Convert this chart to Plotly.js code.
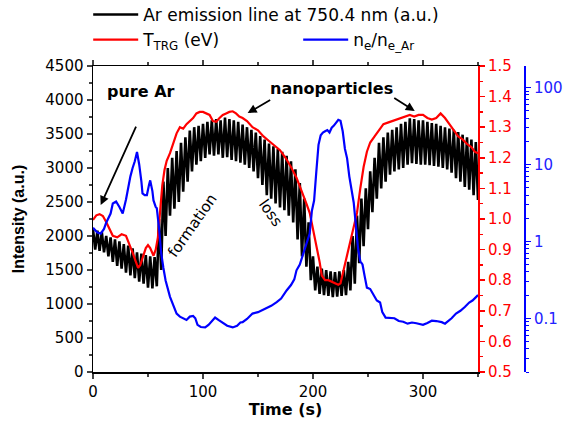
<!DOCTYPE html>
<html>
<head>
<meta charset="utf-8">
<script src="https://cdn.plot.ly/plotly-3.0.1.min.js"></script>
<style>html,body{margin:0;padding:0;background:#fff;}#chart{width:566px;height:425px;}</style>
</head>
<body>
<div id="chart"></div>
<script>
const emissionTime = [];
const emissionIntensity = [
2100,1800,2080,1780,2060,1760,2000,1700,1980,1620,
1950,1560,1920,1520,1880,1460,1860,1420,1820,1380,
1760,1330,1740,1300,1720,1240,1700,1230,1690,1260,
2250,1500,2800,2000,3000,2300,3150,2400,3250,2500,
3370,2650,3450,2800,3550,2950,3600,3050,3620,3100,
3650,3150,3680,3200,3700,3180,3720,3200,3700,3150,
3740,3160,3720,3120,3700,3100,3680,3080,3640,3050,
3600,3000,3560,2950,3520,2850,3470,2750,3420,2600,
3360,2550,3320,2480,3280,2420,3240,2380,3180,2300,
3100,2200,2980,1950,2780,1700,2550,1550,2200,1350,
1700,1200,1550,1150,1520,1130,1500,1120,1480,1100,
1470,1110,1480,1120,1500,1130,1620,1200,2000,1300,
2300,1600,2550,1850,2700,2100,2950,2350,3150,2550,
3370,2700,3450,2800,3520,2900,3560,2950,3600,2980,
3650,3000,3680,3050,3730,3070,3720,3060,3700,3050,
3700,3050,3680,3040,3660,3030,3650,3020,3620,3000,
3600,2980,3580,2930,3560,2850,3530,2800,3490,2720,
3450,2680,3420,2600,3380,2530
];
for (let i = 0; i < emissionIntensity.length; i++) emissionTime.push(i * 2);

// T_TRG (eV)
const tempTime = [0,3,6,9,12,15,18,22,26,30,33,36,39,41,43,45,48,50,52,55,57,59,61,63,65,67,70,73,76,79,82,85,88,91,94,97,100,103,106,109,112,115,118,121,124,127,130,133,136,140,145,150,155,160,165,170,175,180,185,190,194,197,200,203,206,208,211,214,217,220,223,225,227,229,231,234,237,240,243,246,249,252,256,260,264,268,272,276,280,284,288,292,296,300,304,308,312,316,320,324,328,332,336,340,344,347,350];
const tempValue = [0.997,1.012,1.016,1.01,0.99,0.965,0.945,0.94,0.95,0.945,0.92,0.89,0.86,0.84,0.85,0.87,0.905,0.915,0.905,0.88,0.90,0.94,1.04,1.11,1.16,1.19,1.215,1.25,1.28,1.30,1.295,1.31,1.32,1.33,1.345,1.35,1.35,1.345,1.34,1.32,1.318,1.33,1.34,1.345,1.35,1.352,1.345,1.335,1.33,1.32,1.30,1.29,1.27,1.255,1.24,1.225,1.20,1.17,1.135,1.09,1.05,1.02,0.97,0.92,0.86,0.815,0.80,0.80,0.795,0.79,0.785,0.79,0.82,0.85,0.88,0.92,0.97,1.02,1.10,1.17,1.22,1.25,1.27,1.29,1.31,1.315,1.32,1.325,1.33,1.335,1.34,1.335,1.34,1.34,1.33,1.325,1.33,1.345,1.33,1.31,1.29,1.27,1.26,1.245,1.235,1.22,1.215];

// n_e / n_e_Ar (log scale)
const densTime = [0,2,4,7,10,12,14,16,18,21,24,27,30,32,34,36,38,40,42,44,45,47,49,51,52,54,55,57,58,60,62,64,66,70,73,76,79,82,85,88,91,93,95,98,102,105,108,111,114,118,122,127,131,134,136,140,145,150,155,158,162,167,171,176,180,183,185,188,191,194,197,199,201,203,205,207,209,211,213,215,217,219,221,223,225,227,229,231,233,235,237,239,241,243,245,247,249,252,255,258,261,263,266,270,274,278,282,286,290,294,297,300,304,308,312,317,320,323,326,330,334,338,342,345,348,350];
const densValue = [1.5,1.4,1.3,1.26,1.45,1.75,2.0,2.3,3.1,3.3,2.8,2.3,3.5,5.0,7.0,9.0,11,14.5,10,6,4.2,4.0,4.0,5.5,6.2,4.5,3.4,2.8,2.7,1.5,0.7,0.45,0.31,0.19,0.15,0.115,0.105,0.10,0.095,0.105,0.107,0.10,0.082,0.077,0.076,0.082,0.092,0.102,0.095,0.087,0.08,0.076,0.08,0.088,0.089,0.098,0.115,0.12,0.13,0.135,0.145,0.162,0.18,0.23,0.27,0.32,0.42,0.5,0.69,0.95,1.26,2.5,3.4,8,18,24,26,27,28,26,30,32,35,38,37,27,16,12,7,4.5,3.2,1.6,0.8,0.55,0.5,0.35,0.25,0.24,0.2,0.17,0.16,0.12,0.102,0.1,0.1,0.092,0.09,0.085,0.088,0.086,0.083,0.082,0.087,0.093,0.092,0.089,0.085,0.092,0.1,0.115,0.125,0.14,0.16,0.17,0.19,0.2,0.22];

const F = 'DejaVu Sans, Arial, sans-serif';

const traces = [
  {x: emissionTime, y: emissionIntensity, type: 'scatter', mode: 'lines', name: 'Ar emission line at 750.4 nm (a.u.)',
   line: {color: '#000000', width: 2.6}, legend: 'legend', yaxis: 'y'},
  {x: tempTime, y: tempValue, type: 'scatter', mode: 'lines', name: 'T<sub>TRG</sub> (eV)',
   line: {color: '#ff0000', width: 2.2}, legend: 'legend2', yaxis: 'y2'},
  {x: densTime, y: densValue, type: 'scatter', mode: 'lines', name: 'n<sub>e</sub>/n<sub>e_Ar</sub>',
   line: {color: '#0000ff', width: 2.2}, legend: 'legend2', yaxis: 'y3'}
];

const layout = {
  width: 566, height: 425,
  margin: {l: 93, r: 36, t: 66, b: 53, autoexpand: false},
  paper_bgcolor: '#ffffff', plot_bgcolor: '#ffffff',
  font: {family: F, size: 15, color: '#000'},
  showlegend: true,
  legend: {x: -0.011, xanchor: 'left', y: 1.167, yanchor: 'middle', font: {family: F, size: 17},
           itemwidth: 45, bgcolor: 'rgba(0,0,0,0)', tracegroupgap: 0},
  legend2: {orientation: 'h', x: -0.011, xanchor: 'left', y: 1.085, yanchor: 'middle', font: {family: F, size: 17},
            itemwidth: 45, entrywidth: 150, entrywidthmode: 'pixels', bgcolor: 'rgba(0,0,0,0)'},
  xaxis: {domain: [0, 0.881], range: [0, 350], dtick: 100, ticks: 'outside', ticklen: 5, tickwidth: 1.5,
          minor: {dtick: 50, ticks: 'outside', ticklen: 3, tickwidth: 1.5},
          showline: true, linecolor: '#000', linewidth: 1.5, mirror: 'ticks', showgrid: false, zeroline: false,
          tickfont: {family: F, size: 15},
          title: {text: '<b>Time (s)</b>', font: {family: F, size: 16}, standoff: 0}},
  yaxis: {range: [0, 4500], dtick: 500, ticks: 'outside', ticklen: 5, tickwidth: 1.5,
          minor: {dtick: 250, ticks: 'outside', ticklen: 3, tickwidth: 1.5},
          showline: true, linecolor: '#000', linewidth: 1.5, showgrid: false, zeroline: false,
          tickfont: {family: F, size: 15},
          title: {text: '<b>Intensity (a.u.)</b>', font: {family: 'Liberation Sans, Arial, sans-serif', size: 16}, standoff: 16}},
  yaxis2: {overlaying: 'y', side: 'right', anchor: 'x', range: [0.5, 1.5], dtick: 0.1, tickformat: '.1f',
           ticks: 'outside', ticklen: 5, tickwidth: 1.5, tickcolor: '#ff0000',
           minor: {dtick: 0.05, ticks: 'outside', ticklen: 3, tickwidth: 1.5, tickcolor: '#ff0000'},
           showline: true, linecolor: '#ff0000', linewidth: 2, showgrid: false, zeroline: false,
           tickfont: {family: F, size: 15, color: '#ff0000'}},
  yaxis3: {overlaying: 'y', side: 'right', anchor: 'free', position: 0.9886, type: 'log',
           range: [Math.log10(0.02), 2.28], dtick: 1,
           ticks: 'outside', ticklen: 5, tickwidth: 1.5, tickcolor: '#0000ff',
           minor: {ticks: 'outside', ticklen: 3, tickwidth: 1, tickcolor: '#0000ff', dtick: 'D1'},
           showline: true, linecolor: '#0000ff', linewidth: 2, showgrid: false, zeroline: false,
           tickfont: {family: F, size: 15, color: '#2222ff'}},
  annotations: [
    {x: 43.6, y: 4131, xref: 'x', yref: 'y', text: '<b>pure Ar</b>', showarrow: false, font: {family: F, size: 16}},
    {x: 7, y: 2455, xref: 'x', yref: 'y', text: '', showarrow: true, ax: 36, ay: -80,
     arrowhead: 2, arrowsize: 1, arrowwidth: 1.8, arrowcolor: '#000'},
    {x: 217, y: 4175, xref: 'x', yref: 'y', text: '<b>nanoparticles</b>', showarrow: false, font: {family: F, size: 16}},
    {x: 140.6, y: 3807, xref: 'x', yref: 'y', text: '', showarrow: true, ax: 24, ay: -14,
     arrowhead: 2, arrowsize: 1, arrowwidth: 1.8, arrowcolor: '#000'},
    {x: 292.5, y: 3837, xref: 'x', yref: 'y', text: '', showarrow: true, ax: -22, ay: -14,
     arrowhead: 2, arrowsize: 1, arrowwidth: 1.8, arrowcolor: '#000'},
    {x: 90, y: 2150, xref: 'x', yref: 'y', text: 'formation', showarrow: false, textangle: -55, font: {family: F, size: 15}},
    {x: 161.5, y: 2337, xref: 'x', yref: 'y', text: 'loss', showarrow: false, textangle: 55, font: {family: F, size: 15}}
  ]
};

Plotly.newPlot('chart', traces, layout, {displayModeBar: false, staticPlot: true});
</script>
</body>
</html>
